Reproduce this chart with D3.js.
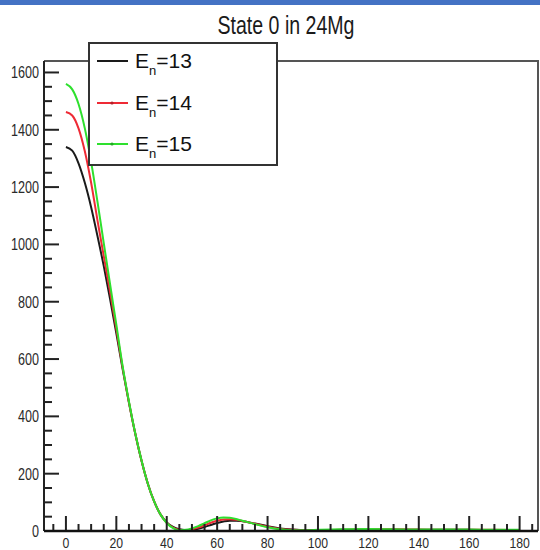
<!DOCTYPE html>
<html>
<head>
<meta charset="utf-8">
<script src="https://cdn.jsdelivr.net/npm/d3@7/dist/d3.min.js"></script>
<style>
  html, body { margin: 0; padding: 0; background: #fff; }
  svg { display: block; }
  text { font-family: "Liberation Sans", Arial, sans-serif; }
</style>
</head>
<body>
<svg id="chart" width="540" height="550"></svg>
<script>
// Scattering angle (degrees)
const angles = [0, 2.5, 5, 7.5, 10, 12.5, 15, 17.5, 20, 22.5, 25, 27.5, 30, 32.5, 35, 37.5, 40, 42.5, 45, 47.5, 50,
  52.5, 55, 57.5, 60, 62.5, 65, 67.5, 70, 75, 80, 85, 90, 95, 100, 110, 120, 130, 140, 150, 160, 170, 180];

// Cross sections for each neutron energy
const en13 = [1340, 1327, 1283, 1215, 1130, 1030, 925, 810, 690, 565, 448, 340, 245, 165, 103, 58, 30, 14, 6, 3, 4,
  8, 14, 21, 28, 33, 36, 36, 34, 26, 17, 9, 5, 3, 3, 4, 5, 5, 4, 4, 4, 3, 3];
const en14 = [1462, 1450, 1405, 1325, 1215, 1085, 960, 835, 705, 570, 449, 340, 245, 165, 103, 58, 29, 12, 4, 3, 6,
  12, 20, 29, 36, 40, 41, 39, 35, 25, 15, 7, 4, 3, 3, 4, 6, 6, 5, 4, 4, 4, 3];
const en15 = [1560, 1541, 1490, 1405, 1288, 1150, 1005, 862, 720, 575, 452, 341, 246, 165, 103, 58, 28, 10, 3, 4, 9,
  17, 27, 37, 44, 47, 46, 42, 36, 24, 13, 6, 3, 3, 4, 6, 7, 6, 5, 5, 5, 4, 4];

const seriesNames = ["13", "14", "15"];
const seriesColors = ["#1a1a1a", "#ee2a35", "#2ee02e"];
const seriesValues = [en13, en14, en15];

const yTicks = [0, 200, 400, 600, 800, 1000, 1200, 1400, 1600];
const xTicks = [0, 20, 40, 60, 80, 100, 120, 140, 160, 180];
const titleText = "State 0 in 24Mg";

const svg = d3.select("#chart");

// header strip
svg.append("rect").attr("x", 0).attr("y", 0).attr("width", 540).attr("height", 5).attr("fill", "#4472c4");

const frame = { left: 44, top: 61, right: 538, bottom: 531 };
const x = d3.scaleLinear().domain([-8.7, 187.3]).range([frame.left, frame.right]);
const y = d3.scaleLinear().domain([0, 1640]).range([frame.bottom, frame.top]);

// frame (top and right)
svg.append("path")
  .attr("d", `M${frame.left},${frame.top}H${frame.right}V${frame.bottom}`)
  .attr("fill", "none").attr("stroke", "#555").attr("stroke-width", 2);

// curves
const line = d3.line()
  .x((d, i) => x(angles[i]))
  .y(d => y(d))
  .curve(d3.curveMonotoneX);

const plot = svg.append("g");
seriesValues.forEach((vals, k) => {
  plot.append("path")
    .datum(vals)
    .attr("d", line)
    .attr("fill", "none")
    .attr("stroke", seriesColors[k])
    .attr("stroke-width", 2);
});

// Y axis, ticks drawn inward
const yMinor = d3.range(0, 1640, 50);
const yAxis = svg.append("g");
yAxis.append("line").attr("x1", frame.left).attr("x2", frame.left)
  .attr("y1", frame.top).attr("y2", frame.bottom).attr("stroke", "#222").attr("stroke-width", 2);
yAxis.selectAll("line.tick").data(yMinor).enter().append("line")
  .attr("class", "tick")
  .attr("x1", frame.left)
  .attr("x2", d => frame.left + (d % 200 === 0 ? 15 : 8))
  .attr("y1", d => y(d)).attr("y2", d => y(d))
  .attr("stroke", "#222").attr("stroke-width", 2);
yAxis.selectAll("text").data(yTicks).enter().append("text")
  .attr("x", 39).attr("y", d => y(d) + 6)
  .attr("text-anchor", "end")
  .attr("font-size", 16)
  .attr("fill", "#2a2a2a")
  .attr("textLength", d => String(d).length * 7)
  .attr("lengthAdjust", "spacingAndGlyphs")
  .text(d => d);

// X axis, ticks drawn inward
const xMinor = d3.range(-5, 187, 5);
const xAxis = svg.append("g");
xAxis.selectAll("line.tick").data(xMinor).enter().append("line")
  .attr("class", "tick")
  .attr("x1", d => x(d)).attr("x2", d => x(d))
  .attr("y1", frame.bottom)
  .attr("y2", d => frame.bottom - (d % 20 === 0 ? 15 : 7))
  .attr("stroke", "#222").attr("stroke-width", 2);
xAxis.append("line").attr("x1", frame.left).attr("x2", frame.right)
  .attr("y1", frame.bottom).attr("y2", frame.bottom).attr("stroke", "#111").attr("stroke-width", 2.5);
xAxis.selectAll("text").data(xTicks).enter().append("text")
  .attr("x", d => x(d)).attr("y", 548)
  .attr("text-anchor", "middle")
  .attr("font-size", 15)
  .attr("fill", "#2a2a2a")
  .attr("textLength", d => String(d).length * 6.8)
  .attr("lengthAdjust", "spacingAndGlyphs")
  .text(d => d);

// title
svg.append("text")
  .attr("x", 286).attr("y", 34)
  .attr("text-anchor", "middle")
  .attr("font-size", 25)
  .attr("fill", "#1a1a1a")
  .attr("textLength", 137)
  .attr("lengthAdjust", "spacingAndGlyphs")
  .text(titleText);

// legend
const legend = svg.append("g");
legend.append("rect")
  .attr("x", 89).attr("y", 43).attr("width", 188).attr("height", 122)
  .attr("fill", "#fff").attr("stroke", "#333").attr("stroke-width", 2);
const rowY = [61, 103, 144];
seriesNames.forEach((name, k) => {
  const g = legend.append("g");
  g.append("line")
    .attr("x1", 97).attr("x2", 128).attr("y1", rowY[k]).attr("y2", rowY[k])
    .attr("stroke", seriesColors[k]).attr("stroke-width", 2);
  if (k > 0) {
    g.append("circle").attr("cx", 112).attr("cy", rowY[k]).attr("r", 1.6)
      .attr("fill", d3.color(seriesColors[k]).darker(0.8));
  }
  const t = g.append("text")
    .attr("x", 135).attr("y", rowY[k] + 7)
    .attr("font-size", 21)
    .attr("fill", "#111");
  t.append("tspan").text("E");
  t.append("tspan").attr("dy", 7).attr("font-size", 13).text("n");
  t.append("tspan").attr("dy", -7).text("=" + name);
});
</script>
</body>
</html>
